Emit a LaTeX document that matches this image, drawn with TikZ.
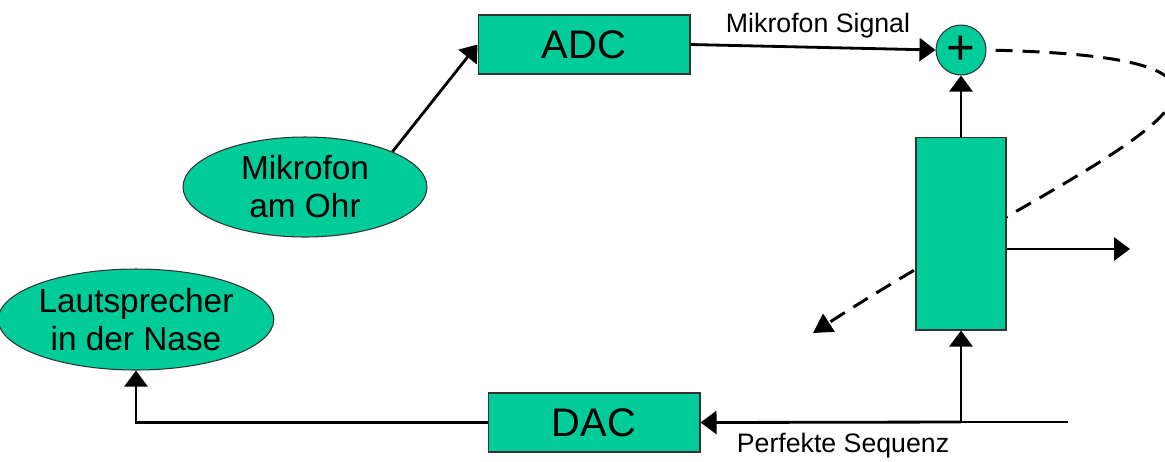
\documentclass[tikz,border=0pt]{standalone}
\usepackage{fontspec}
\setmainfont{Liberation Sans}
\usetikzlibrary{shapes.geometric,arrows.meta,backgrounds}
\definecolor{fillg}{RGB}{0,204,153}
\begin{document}
\begin{tikzpicture}[x=0.02cm,y=-0.02cm,
  box/.style={draw=black!80,line width=0.6pt,fill=fillg,inner sep=0pt},
  oval/.style={box,ellipse,align=center,font=\fontsize{19}{21.6}\selectfont},
  conv/.style={box,minimum width=4.24cm,minimum height=1.18cm,font=\fontsize{22.7}{25}\selectfont},
  lbl/.style={inner sep=0pt,anchor=base,font=\fontsize{15.2}{17}\selectfont},
  conn/.style={line width=1.6pt,-{Triangle[length=0.32cm,width=0.46cm]}},
  dconn/.style={line width=1.7pt,dash pattern=on 0.34cm off 0.2cm,-{Triangle[length=0.38cm,width=0.42cm]}}]
\useasboundingbox (0,0) rectangle (1165,461);
% nodes
\node[conv] (adc) at (584,44.5) {ADC};
\node[conv] (dac) at (594,422.5) {DAC};
\node[oval,minimum width=4.88cm,minimum height=2cm] (mic) at (305,187) {Mikrofon\\am Ohr};
\node[oval,minimum width=5.08cm,minimum height=2.02cm] (laut) at (136,319.5) {Lautsprecher\\in der Nase};
\node[box,circle,minimum size=1cm,font=\fontsize{28}{30}\selectfont] (plus) at (961,50) {+};
\node[box,minimum width=1.8cm,minimum height=3.86cm] (filt) at (961,233.5) {};
% labels
\node[lbl] (lms) at (818,32) {Mikrofon Signal};
\node[lbl] (lps) at (843,452) {Perfekte Sequenz};
% helper coordinates
\coordinate (junc) at (961,422);
\coordinate (tail) at (1068,422);
\coordinate (out) at (1130,249);
\coordinate (dend) at (813,333);
% connectors
\draw[conn] (mic.22) -- (adc.west);
\draw[conn] (adc.east) -- (plus.west);
\draw[conn] (filt.north) -- (plus.south);
\draw[conn] (filt.east |- out) -- (out);
\draw[line width=0.8pt] (junc) -- (tail);
\draw[conn] (junc) -- (filt.south);
\draw[conn] (junc) -- (dac.east);
\draw[conn] (dac.west) -| (laut.south);
\begin{scope}[on background layer]
\draw[dconn,shorten <=0.18cm] (plus.east) .. controls (1370,60) and (1080,160) .. (dend);
\end{scope}
\end{tikzpicture}
\end{document}
